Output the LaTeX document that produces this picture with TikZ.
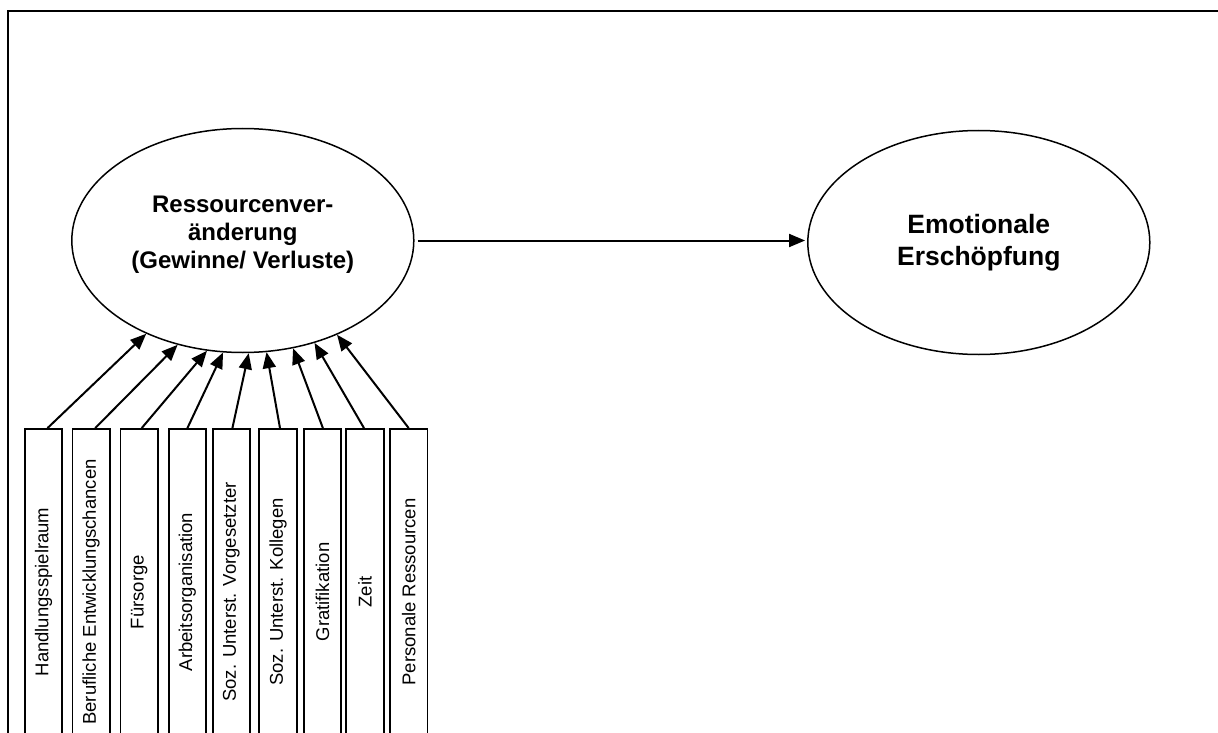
\documentclass[tikz,border=0pt]{standalone}
\usepackage{fontspec}
\setmainfont{Liberation Sans}
\usetikzlibrary{shapes.geometric,arrows.meta}

\tikzset{
  construct/.style={draw, ellipse, line width=1.5pt, minimum width=342pt,
    minimum height=224pt, inner sep=0pt, align=center, font=\bfseries},
  resource/.style={draw, rectangle, line width=1.8pt, minimum width=37.5pt,
    minimum height=326pt, inner sep=0pt, font=\fontsize{18.5}{22}\selectfont},
  link/.style={line width=2pt, -{Triangle[length=16pt,width=13pt]}},
}

\begin{document}
\begin{tikzpicture}[x=1pt,y=-1pt]
  \useasboundingbox (0,0) rectangle (1218,733);
  \begin{scope}
    \clip (0,0) rectangle (1218,733);

    % outer frame
    \draw[line width=2pt] (8,760) -- (8,11) -- (1240,11);

    % the two latent constructs
    \node[construct, font=\bfseries\fontsize{24}{28}\selectfont] (res) at (242.8,240.5)
      {Ressourcenver-\\änderung\\(Gewinne/ Verluste)\\[-12pt]};
    \node[construct, font=\bfseries\fontsize{26.5}{31.5}\selectfont] (emo) at (978.8,242.5)
      {Emotionale\\Erschöpfung};

    \coordinate (resout) at ([xshift=3pt]res.east);
    \coordinate (emoin) at ([xshift=-2pt]resout -| emo.west);
    \draw[link] (resout) -- (emoin);

    % resource indicators
    \node[resource] (b1) at (43.5,592)  {\rotatebox{90}{Handlungsspielraum}};
    \node[resource] (b2) at (91.2,592)  {\rotatebox{90}{Berufliche Entwicklungschancen}};
    \node[resource] (b3) at (139.2,592) {\rotatebox{90}{Fürsorge}};
    \node[resource] (b4) at (187.4,592) {\rotatebox{90}{Arbeitsorganisation}};
    \node[resource] (b5) at (231.4,592) {\rotatebox{90}{Soz. Unterst. Vorgesetzter}};
    \node[resource] (b6) at (278,592)   {\rotatebox{90}{Soz. Unterst. Kollegen}};
    \node[resource] (b7) at (322.4,592) {\rotatebox{90}{Gratifikation}};
    \node[resource] (b8) at (365,592)   {\rotatebox{90}{Zeit}};
    \node[resource] (b9) at (408.7,592) {\rotatebox{90}{Personale Ressourcen}};

    % arrows from the indicators into the construct
    \draw[link] ([xshift=4pt]b1.north)   -- (res.-136);
    \draw[link] ([xshift=4pt]b2.north)   -- (res.-122);
    \draw[link] ([xshift=2.5pt]b3.north) -- (res.-108.5);
    \draw[link] (b4.north)               -- (res.-100.5);
    \draw[link] ([xshift=1pt]b5.north)   -- (res.-87.5);
    \draw[link] ([xshift=2pt]b6.north)   -- (res.-78);
    \draw[link] ([xshift=0.5pt]b7.north) -- (res.-65);
    \draw[link] ([xshift=-1pt]b8.north)  -- (res.-55);
    \draw[link] (b9.north)               -- (res.-45);
  \end{scope}
\end{tikzpicture}
\end{document}
